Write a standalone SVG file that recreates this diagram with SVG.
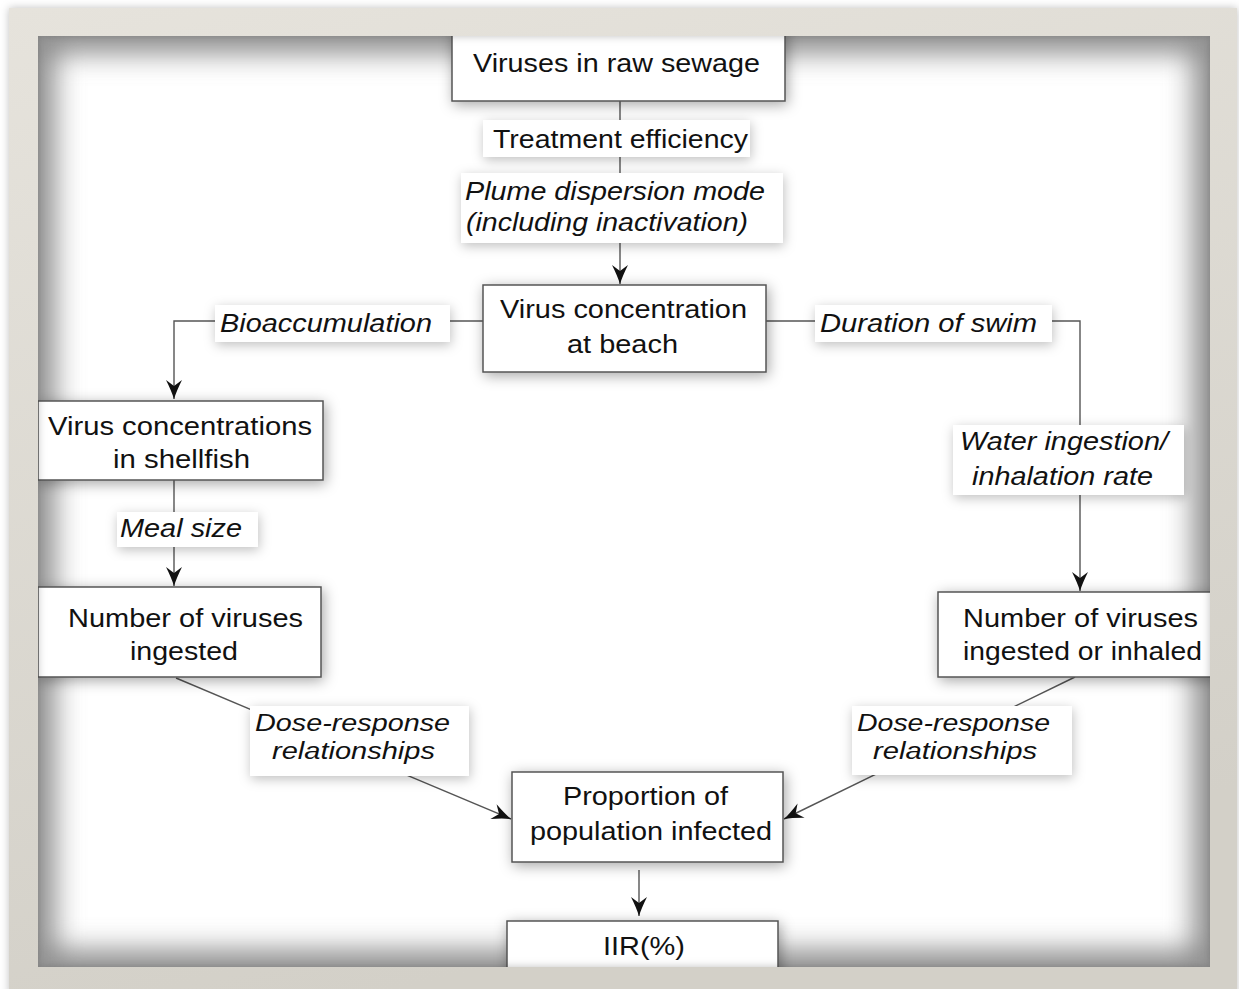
<svg xmlns="http://www.w3.org/2000/svg" width="1239" height="989" viewBox="0 0 1239 989">
<defs>
<style>
.box{fill:#fff;stroke:#555;stroke-width:1.5;filter:url(#ds)}
.lbl{fill:#fff;stroke:none;filter:url(#ds2)}
.t{font-family:"Liberation Sans",Arial,sans-serif;font-size:25px;fill:#111;text-anchor:middle}
.i{font-style:italic}
.s{font-size:23px}
.c{fill:none;stroke:#555;stroke-width:1.4}
</style>
<linearGradient id="fg" x1="0" y1="0" x2="0.3" y2="1">
<stop offset="0" stop-color="#e6e3dc"/>
<stop offset="1" stop-color="#d3d0c8"/>
</linearGradient>
<filter id="ds" x="-20%" y="-40%" width="140%" height="180%">
<feDropShadow dx="2" dy="3" stdDeviation="7" flood-color="#000" flood-opacity="0.35"/>
</filter>
<filter id="ds2" x="-20%" y="-40%" width="140%" height="180%">
<feDropShadow dx="1" dy="3" stdDeviation="6" flood-color="#000" flood-opacity="0.25"/>
</filter>
<filter id="blur" x="-10%" y="-10%" width="120%" height="120%">
<feGaussianBlur stdDeviation="14"/>
</filter>
<filter id="oshadow" x="-5%" y="-5%" width="110%" height="110%">
<feDropShadow dx="0" dy="0" stdDeviation="4" flood-color="#000" flood-opacity="0.25"/>
</filter>
<clipPath id="inner"><rect x="38" y="36" width="1172" height="931"/></clipPath>
<marker id="ah" markerUnits="userSpaceOnUse" markerWidth="24" markerHeight="20" viewBox="-20 -10 24 20" refX="0" refY="0" orient="auto">
<path d="M0,0 Q-8,-2.5 -19,-8 L-13,0 L-19,8 Q-8,2.5 0,0 Z" fill="#111"/>
</marker>
</defs>
<rect width="1239" height="989" fill="#fff"/>
<g id="background">
<rect x="38" y="36" width="1172" height="931" fill="#fff"/>
<g clip-path="url(#inner)">
<rect x="38" y="36" width="1172" height="931" fill="none" stroke="#8a8a8a" stroke-width="34" filter="url(#blur)"/>
</g>
</g>
<g id="connectors">
<line class="c" x1="620" y1="101" x2="620" y2="284" marker-end="url(#ah)"/>
<polyline class="c" points="483,321 174,321 174,399" marker-end="url(#ah)"/>
<line class="c" x1="174" y1="480" x2="174" y2="586" marker-end="url(#ah)"/>
<polyline class="c" points="766,321 1080,321 1080,591" marker-end="url(#ah)"/>
<line class="c" x1="176" y1="678" x2="511" y2="819" marker-end="url(#ah)"/>
<line class="c" x1="1075" y1="677" x2="784" y2="819" marker-end="url(#ah)"/>
<line class="c" x1="639" y1="870" x2="639" y2="916" marker-end="url(#ah)"/>
</g>
<g id="labels">
<g id="lbl-treatment"><rect class="lbl" x="483" y="120" width="267" height="37"/><text class="t" x="620.5" y="148" textLength="255" lengthAdjust="spacingAndGlyphs">Treatment efficiency</text></g>
<g id="lbl-plume"><rect class="lbl" x="461" y="173" width="322" height="70"/><text class="t i" x="615" y="200" textLength="300" lengthAdjust="spacingAndGlyphs">Plume dispersion mode</text><text class="t i" x="607" y="231" textLength="282" lengthAdjust="spacingAndGlyphs">(including inactivation)</text></g>
<g id="lbl-bio"><rect class="lbl" x="215" y="305" width="235" height="37"/><text class="t i" x="326" y="332" textLength="212" lengthAdjust="spacingAndGlyphs">Bioaccumulation</text></g>
<g id="lbl-swim"><rect class="lbl" x="815" y="305" width="237" height="37"/><text class="t i" x="928.5" y="332" textLength="217" lengthAdjust="spacingAndGlyphs">Duration of swim</text></g>
<g id="lbl-water"><rect class="lbl" x="953" y="425" width="231" height="70"/><text class="t i" x="1064" y="450" textLength="208" lengthAdjust="spacingAndGlyphs">Water ingestion/</text><text class="t i" x="1062.5" y="485" textLength="181" lengthAdjust="spacingAndGlyphs">inhalation rate</text></g>
<g id="lbl-meal"><rect class="lbl" x="117" y="512" width="141" height="35"/><text class="t i" x="181" y="537" textLength="122" lengthAdjust="spacingAndGlyphs">Meal size</text></g>
<g id="lbl-dose-left"><rect class="lbl" x="250" y="706" width="219" height="70"/><text class="t i s" x="352.5" y="731" textLength="195" lengthAdjust="spacingAndGlyphs">Dose-response</text><text class="t i s" x="353.5" y="759" textLength="163" lengthAdjust="spacingAndGlyphs">relationships</text></g>
<g id="lbl-dose-right"><rect class="lbl" x="852" y="706" width="220" height="69"/><text class="t i s" x="953.5" y="731" textLength="193" lengthAdjust="spacingAndGlyphs">Dose-response</text><text class="t i s" x="955" y="759" textLength="164" lengthAdjust="spacingAndGlyphs">relationships</text></g>
</g>
<g id="node-sewage"><rect class="box" x="452" y="28" width="333" height="73"/><text class="t" x="616.5" y="72" textLength="287" lengthAdjust="spacingAndGlyphs">Viruses in raw sewage</text></g>
<g id="node-beach"><rect class="box" x="483" y="285" width="283" height="87"/><text class="t" x="623.5" y="318" textLength="247" lengthAdjust="spacingAndGlyphs">Virus concentration</text><text class="t" x="622.5" y="353" textLength="111" lengthAdjust="spacingAndGlyphs">at beach</text></g>
<g id="node-shellfish"><rect class="box" x="38" y="401" width="285" height="79"/><text class="t" x="180" y="435" textLength="264" lengthAdjust="spacingAndGlyphs">Virus concentrations</text><text class="t" x="181.5" y="468" textLength="137" lengthAdjust="spacingAndGlyphs">in shellfish</text></g>
<g id="node-ingested"><rect class="box" x="38" y="587" width="283" height="90"/><text class="t" x="185.5" y="627" textLength="235" lengthAdjust="spacingAndGlyphs">Number of viruses</text><text class="t" x="184" y="660" textLength="108" lengthAdjust="spacingAndGlyphs">ingested</text></g>
<g id="node-inhaled"><rect class="box" x="938" y="592" width="274" height="85"/><text class="t" x="1080.5" y="627" textLength="235" lengthAdjust="spacingAndGlyphs">Number of viruses</text><text class="t" x="1082.5" y="660" textLength="239" lengthAdjust="spacingAndGlyphs">ingested or inhaled</text></g>
<g id="node-proportion"><rect class="box" x="512" y="772" width="271" height="90"/><text class="t" x="645.5" y="805" textLength="165" lengthAdjust="spacingAndGlyphs">Proportion of</text><text class="t" x="651" y="840" textLength="242" lengthAdjust="spacingAndGlyphs">population infected</text></g>
<g id="node-iir"><rect class="box" x="507" y="921" width="271" height="60"/><text class="t" x="644" y="955" textLength="82" lengthAdjust="spacingAndGlyphs">IIR(%)</text></g>
<g id="frame">
<path d="M9,8 H1237 V995 H9 Z M38,36 V967 H1210 V36 Z" fill="url(#fg)" fill-rule="evenodd" filter="url(#oshadow)"/>
</g>
</svg>
